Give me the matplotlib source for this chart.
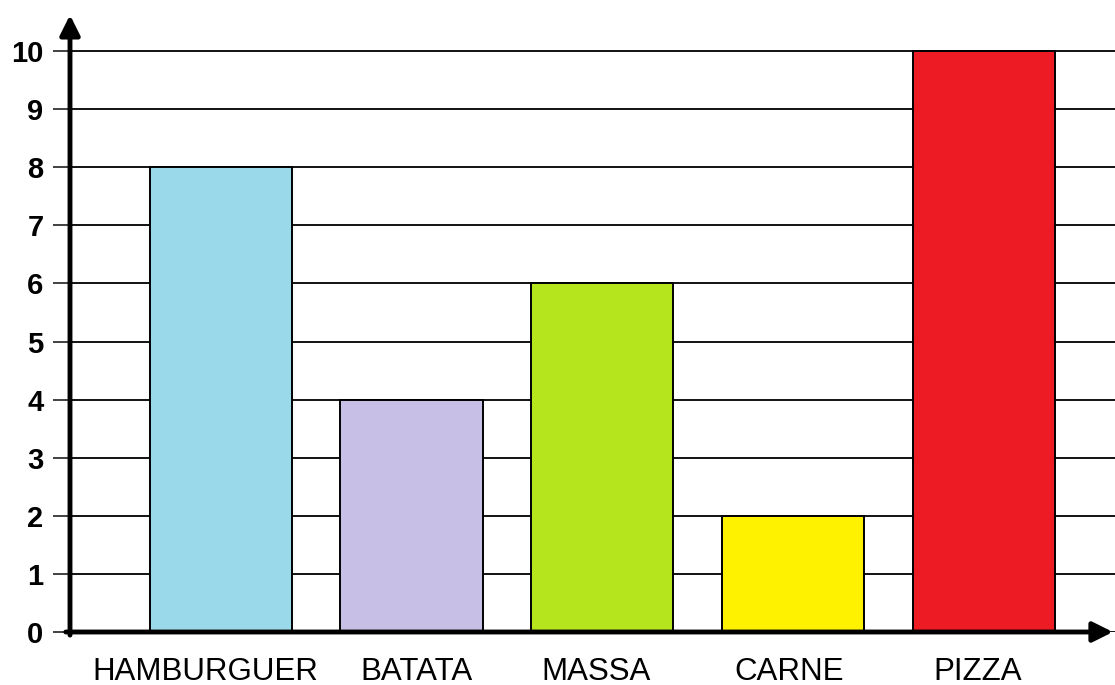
import numpy as np
import matplotlib.pyplot as plt
from matplotlib.transforms import ScaledTranslation

plt.rcParams['font.family'] = ['Liberation Sans', 'DejaVu Sans']

categories = ['HAMBURGUER', 'BATATA', 'MASSA', 'CARNE', 'PIZZA']
values = [8, 4, 6, 2, 10]
colors = ['#99D9EA', '#C8BFE7', '#B5E61D', '#FFF200', '#ED1C24']
yticks = list(range(0, 11))
# small horizontal shift of each label in the original (pixels)
label_shift = [-15, 5, -6, -4, -6]


def make_plot():
    fig = plt.figure(figsize=(11.15, 6.85), dpi=100)
    # axes: left at x=70px, bottom at y=632px, top at y=15px
    ax = fig.add_axes([70 / 1115, (685 - 632) / 685, 1 - 70 / 1115, (632 - 15) / 685])

    x = np.arange(len(categories))
    ax.bar(x, values, width=0.745, color=colors, edgecolor='black',
           linewidth=1.4, zorder=3)

    ax.set_xlim(-0.79, 4.687)
    ax.set_ylim(0, 10.62)

    # horizontal gridlines
    ax.set_yticks(yticks)
    ax.grid(axis='y', color='black', linewidth=1.3, zorder=0)
    ax.set_axisbelow(True)
    ax.tick_params(axis='y', length=12, width=1.3, color='#333333', pad=7,
                   labelsize=21)
    for lab in ax.get_yticklabels():
        lab.set_fontweight('bold')

    ax.set_xticks(x)
    ax.set_xticklabels(categories, fontsize=22.5)
    ax.tick_params(axis='x', length=0, pad=18)
    for lab, dx in zip(ax.get_xticklabels(), label_shift):
        lab.set_transform(lab.get_transform() +
                          ScaledTranslation(dx / 100, 0, fig.dpi_scale_trans))

    for s in ax.spines.values():
        s.set_visible(False)

    # arrows for axes
    ax.annotate('', xy=(0, 1), xytext=(0, -0.005), xycoords='axes fraction',
                arrowprops=dict(arrowstyle='-|>', lw=3.5, color='black',
                                mutation_scale=30, shrinkA=0, shrinkB=0),
                zorder=5)
    ax.annotate('', xy=(0.998, 0), xytext=(-0.004, 0), xycoords='axes fraction',
                arrowprops=dict(arrowstyle='-|>', lw=3.5, color='black',
                                mutation_scale=30, shrinkA=0, shrinkB=0),
                zorder=5)

    fig.savefig('out.png', dpi=100)


make_plot()
